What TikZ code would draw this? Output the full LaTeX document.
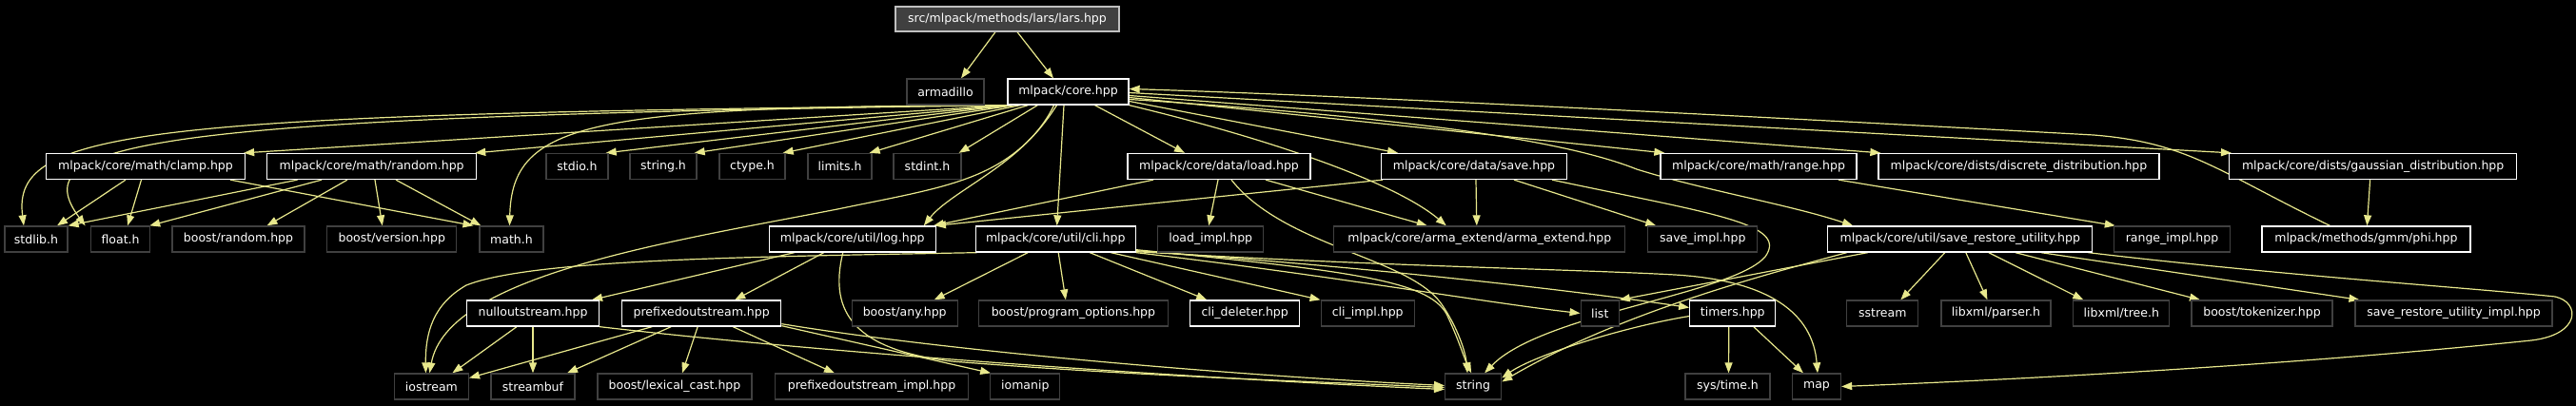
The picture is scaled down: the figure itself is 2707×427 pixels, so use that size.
\documentclass[tikz,border=0pt]{standalone}
\usepackage{fontspec}
\setmainfont{DejaVu Sans}
\usetikzlibrary{arrows.meta}
\definecolor{edgecol}{RGB}{232,232,140}
\definecolor{extborder}{RGB}{64,64,64}
\definecolor{topfill}{RGB}{64,64,64}
\definecolor{topborder}{RGB}{192,192,192}
\pgfdeclarelayer{bg}
\pgfdeclarelayer{edges}
\pgfsetlayers{bg,edges,main}
\tikzset{
  basebox/.style={rectangle, inner sep=0pt, minimum height=27pt, text=white,
    font=\fontsize{12.5}{14}\selectfont, line width=1.3pt},
  docbox/.style={basebox, draw=white, fill=black},
  extbox/.style={basebox, draw=extborder, fill=black},
  topbox/.style={basebox, draw=topborder, fill=topfill, minimum height=26pt},
  edge/.style={draw=edgecol, line width=1.2pt, -{Triangle[length=11pt,width=8pt]}}
}
\begin{document}
\begin{tikzpicture}[x=1pt,y=-1pt]
\begin{pgfonlayer}{bg}
\fill[black] (0,0) rectangle (2707,427);
\end{pgfonlayer}
\useasboundingbox (0,0) rectangle (2707,427);
% row 0
\node[topbox, minimum width=235pt] (lars) at (1058.5,20) {src/mlpack/methods/lars/lars.hpp};
% row 1
\node[extbox, minimum width=81pt] (armadillo) at (993.5,96.5) {armadillo};
\node[docbox, minimum width=127pt] (core) at (1122.5,96.5) {mlpack/core.hpp};
% row 2
\node[docbox, minimum width=209pt] (clamp) at (153,175) {mlpack/core/math/clamp.hpp};
\node[docbox, minimum width=220pt] (random) at (390.6,175) {mlpack/core/math/random.hpp};
\node[extbox, minimum width=65pt] (stdio) at (606.5,175) {stdio.h};
\node[extbox, minimum width=70pt] (stringh) at (697,175) {string.h};
\node[extbox, minimum width=69pt] (ctype) at (790.5,175) {ctype.h};
\node[extbox, minimum width=67pt] (limits) at (882.5,175) {limits.h};
\node[extbox, minimum width=71pt] (stdint) at (974.5,175) {stdint.h};
\node[docbox, minimum width=192pt] (load) at (1281,175) {mlpack/core/data/load.hpp};
\node[docbox, minimum width=195pt] (save) at (1549,175) {mlpack/core/data/save.hpp};
\node[docbox, minimum width=206pt] (range) at (1848,175) {mlpack/core/math/range.hpp};
\node[docbox, minimum width=295pt] (discrete) at (2121.5,175) {mlpack/core/dists/discrete\_distribution.hpp};
\node[docbox, minimum width=302pt] (gaussian) at (2493.6,175) {mlpack/core/dists/gaussian\_distribution.hpp};
% row 3
\node[extbox, minimum width=66pt] (stdlib) at (38,251.5) {stdlib.h};
\node[extbox, minimum width=62pt] (float) at (126.6,251.5) {float.h};
\node[extbox, minimum width=139pt] (brandom) at (250.5,251.5) {boost/random.hpp};
\node[extbox, minimum width=136pt] (bversion) at (411.8,251.5) {boost/version.hpp};
\node[extbox, minimum width=67pt] (math) at (537.5,251.5) {math.h};
\node[docbox, minimum width=175pt] (log) at (895.8,251.5) {mlpack/core/util/log.hpp};
\node[docbox, minimum width=168pt] (cli) at (1109.2,251.5) {mlpack/core/util/cli.hpp};
\node[extbox, minimum width=111pt] (loadimpl) at (1272.2,251.5) {load\_impl.hpp};
\node[extbox, minimum width=306pt] (arma) at (1554.8,251.5) {mlpack/core/arma\_extend/arma\_extend.hpp};
\node[extbox, minimum width=115pt] (saveimpl) at (1789.3,251.5) {save\_impl.hpp};
\node[docbox, minimum width=278pt] (sru) at (2059.8,251.5) {mlpack/core/util/save\_restore\_utility.hpp};
\node[extbox, minimum width=122pt] (rangeimpl) at (2282.5,251.5) {range\_impl.hpp};
\node[docbox, minimum width=219pt] (phi) at (2486.4,251.5) {mlpack/methods/gmm/phi.hpp};
% row 4
\node[docbox, minimum width=139pt] (null) at (560,329.5) {nulloutstream.hpp};
\node[docbox, minimum width=167pt] (prefixed) at (737.2,329.5) {prefixedoutstream.hpp};
\node[extbox, minimum width=111pt] (bany) at (950.7,329.5) {boost/any.hpp};
\node[extbox, minimum width=199pt] (bpo) at (1127.9,329.5) {boost/program\_options.hpp};
\node[docbox, minimum width=115pt] (clideleter) at (1308.2,329.5) {cli\_deleter.hpp};
\node[extbox, minimum width=98pt] (cliimpl) at (1437.2,329.5) {cli\_impl.hpp};
\node[extbox, minimum width=40pt] (list) at (1681.2,329.5) {list};
\node[docbox, minimum width=90pt] (timers) at (1820.8,329.5) {timers.hpp};
\node[extbox, minimum width=75pt] (sstream) at (1978.3,329.5) {sstream};
\node[extbox, minimum width=115pt] (lxparser) at (2097.4,329.5) {libxml/parser.h};
\node[extbox, minimum width=101pt] (lxtree) at (2229.3,329.5) {libxml/tree.h};
\node[extbox, minimum width=148pt] (btok) at (2377,329.5) {boost/tokenizer.hpp};
\node[extbox, minimum width=207pt] (sruimpl) at (2578.5,329.5) {save\_restore\_utility\_impl.hpp};
% row 5
\node[extbox, minimum width=78pt] (iostream) at (453.4,406.5) {iostream};
\node[extbox, minimum width=88pt] (streambuf) at (560,406.5) {streambuf};
\node[extbox, minimum width=162pt] (lexcast) at (709,406.5) {boost/lexical\_cast.hpp};
\node[extbox, minimum width=203pt] (pimpl) at (916,406.5) {prefixedoutstream\_impl.hpp};
\node[extbox, minimum width=73pt] (iomanip) at (1077.3,406.5) {iomanip};
\node[extbox, minimum width=59pt] (string) at (1548.1,406.5) {string};
\node[extbox, minimum width=89pt] (systime) at (1815.5,406.5) {sys/time.h};
\node[extbox, minimum width=51pt] (map) at (1909,406.5) {map};

\begin{pgfonlayer}{edges}
% lars
\draw[edge] ([xshift=-12.5pt]lars.south) -- ([xshift=16.5pt]armadillo.north);
\draw[edge] ([xshift=10.5pt]lars.south) -- ([xshift=-15.5pt]core.north);
% core -> left
\draw[edge] ([xshift=1pt]core.south west) -- ([xshift=-2pt]clamp.north east);
\draw[edge] ([xshift=2pt]core.south west) -- ([xshift=-2pt]random.north east);
\draw[edge] ([xshift=4pt]core.south west) -- ([xshift=-3pt]stdio.north east);
\draw[edge] ([xshift=8pt]core.south west) -- ([xshift=-3pt]stringh.north east);
\draw[edge] ([xshift=14pt]core.south west) -- ([xshift=-3pt]ctype.north east);
\draw[edge] ([xshift=22pt]core.south west) -- ([xshift=-3pt]limits.north east);
\draw[edge] ([xshift=32pt]core.south west) -- ([xshift=-3pt]stdint.north east);
\draw[edge] ([xshift=1pt]core.south west) .. controls (150,120) and (12,135) .. ([xshift=-13pt]stdlib.north);
\draw[edge] ([xshift=1pt]core.south west) .. controls (140,123) and (25,150) .. ([xshift=-37pt]float.north);
\draw[edge] ([xshift=3pt]core.south west) .. controls (620,112) and (538,128) .. ([xshift=-2pt]math.north);
\draw[edge] ([xshift=-15pt]core.south) .. controls (1080,170) and (1000,200) .. ([xshift=75pt]log.north);
\draw[edge] ([xshift=-12pt]core.south) .. controls (1060,190) and (1000,195) .. (880,220) .. controls (700,255) and (470,290) .. ([xshift=-2pt]iostream.north);
\draw[edge] ([xshift=-4.5pt]core.south) -- ([xshift=1.5pt]cli.north);
\draw[edge] ([xshift=28pt]core.south) -- ([xshift=-36pt]load.north);
\draw[edge] (core.south east) .. controls (1350,150) and (1470,195) .. ([xshift=-35pt]arma.north);
\draw[edge] ([yshift=-10pt]core.east) -- ([xshift=-80pt]save.north);
\draw[edge] ([yshift=-6pt]core.east) -- ([xshift=5pt]range.north west);
\draw[edge] ([yshift=-4pt]core.east) -- ([xshift=3pt]discrete.north west);
\draw[edge] ([yshift=-1pt]core.east) -- ([xshift=3pt]gaussian.north west);
\draw[edge] ([yshift=-8pt]core.east) .. controls (1500,125) and (1650,150) .. (1720,178) .. controls (1790,200) and (1880,215) .. ([xshift=27pt]sru.north west);
\draw[edge] ([xshift=-38pt]phi.north) .. controls (2330,180) and (2300,150) .. (2200,142) .. controls (1800,120) and (1400,100) .. ([yshift=3pt]core.east);
\draw[edge] ([xshift=-3pt]gaussian.south) -- ([xshift=1pt]phi.north);
\draw[edge] ([xshift=84pt]range.south) -- ([xshift=2pt]rangeimpl.north west);
% load / save
\draw[edge] ([xshift=-69pt]load.south) -- ([xshift=-3pt]log.north east);
\draw[edge] ([xshift=-96pt]save.south) -- ([xshift=-1pt]log.north east);
\draw[edge] ([xshift=-1pt]load.south) -- ([xshift=-2pt]loadimpl.north);
\draw[edge] ([xshift=49pt]load.south) -- ([xshift=-55pt]arma.north);
\draw[edge] ([xshift=13pt]load.south) .. controls (1350,260) and (1480,270) .. (1515,320) .. controls (1532,345) and (1540,370) .. ([xshift=-6pt]string.north);
\draw[edge] ([xshift=2pt]save.south) -- ([xshift=-3pt]arma.north);
\draw[edge] ([xshift=42pt]save.south) -- ([xshift=-49pt]saveimpl.north);
\draw[edge] ([xshift=82pt]save.south) .. controls (1800,225) and (1880,235) .. (1855,270) .. controls (1820,310) and (1620,330) .. ([xshift=12pt]string.north);
% clamp / random
\draw[edge] ([xshift=-21pt]clamp.south) -- ([xshift=22pt]stdlib.north);
\draw[edge] ([xshift=-4.5pt]clamp.south) -- ([xshift=7.5pt]float.north);
\draw[edge] ([xshift=89pt]clamp.south) -- ([xshift=-40pt]math.north);
\draw[edge] ([xshift=-78pt]random.south) -- (stdlib.north east);
\draw[edge] ([xshift=-52.6pt]random.south) -- ([xshift=-1pt]float.north east);
\draw[edge] ([xshift=-25.6pt]random.south) -- ([xshift=30pt]brandom.north);
\draw[edge] ([xshift=3.4pt]random.south) -- ([xshift=-10pt]bversion.north);
\draw[edge] ([xshift=25.4pt]random.south) -- ([xshift=2pt]math.north west);
% log
\draw[edge] ([xshift=-61pt]log.south) -- ([xshift=62pt]null.north);
\draw[edge] ([xshift=-30pt]log.south) -- ([xshift=35pt]prefixed.north);
\draw[edge] ([xshift=-10pt]log.south) .. controls (870,330) and (900,368) .. (1000,380) .. controls (1200,396) and (1400,402) .. ([yshift=-1pt]string.west);
% cli
\draw[edge] ([xshift=2pt]cli.south west) .. controls (800,270) and (560,272) .. (490,300) .. controls (455,320) and (447,350) .. ([xshift=-6pt]iostream.north);
\draw[edge] ([xshift=-29pt]cli.south) -- ([xshift=31pt]bany.north);
\draw[edge] ([xshift=3pt]cli.south) -- ([xshift=-8pt]bpo.north);
\draw[edge] ([xshift=36pt]cli.south) -- ([xshift=-40pt]clideleter.north);
\draw[edge] ([xshift=58pt]cli.south) -- (cliimpl.north west);
\draw[edge] (cli.south east) .. controls (1400,290) and (1560,318) .. (list.west);
\draw[edge] ([yshift=2pt]cli.south east) .. controls (1450,282) and (1650,305) .. ([yshift=6pt]timers.west);
\draw[edge] ([yshift=1pt]cli.south east) .. controls (1450,280) and (1650,283) .. (1760,289) .. controls (1860,295) and (1905,330) .. ([xshift=1pt]map.north);
\draw[edge] ([yshift=3pt]cli.south east) .. controls (1420,285) and (1500,295) .. (1520,330) .. controls (1532,355) and (1538,375) .. ([xshift=-2pt]string.north);
% timers
\draw[edge] ([xshift=-4pt]timers.south) -- ([xshift=1pt]systime.north);
\draw[edge] ([xshift=22pt]timers.south) -- ([xshift=-14pt]map.north);
\draw[edge] ([yshift=-3pt]timers.west) .. controls (1700,345) and (1610,375) .. ([yshift=9pt]string.east);
% save_restore_utility
\draw[edge] ([xshift=-97pt]sru.south) -- (list.north east);
\draw[edge] ([xshift=-119pt]sru.south) .. controls (1850,290) and (1700,330) .. ([yshift=5pt]string.east);
\draw[edge] ([xshift=-16pt]sru.south) -- ([xshift=19pt]sstream.north);
\draw[edge] ([xshift=6pt]sru.south) -- ([xshift=-9pt]lxparser.north);
\draw[edge] ([xshift=30pt]sru.south) -- ([xshift=-40pt]lxtree.north);
\draw[edge] ([xshift=58pt]sru.south) -- ([xshift=-65pt]btok.north);
\draw[edge] ([xshift=85pt]sru.south) -- ([xshift=-99pt]sruimpl.north);
\draw[edge] ([xshift=-5pt]sru.south east) .. controls (2400,290) and (2600,303) .. (2685,312) .. controls (2712,318) and (2712,352) .. (2660,358) .. controls (2400,385) and (2100,400) .. (map.east);
% nulloutstream
\draw[edge] ([xshift=-17pt]null.south) -- ([xshift=22pt]iostream.north);
\draw[edge] (null.south) -- (streambuf.north);
\draw[edge] (null.south east) .. controls (900,375) and (1300,400) .. ([yshift=-3pt]string.west);
% prefixedoutstream
\draw[edge] ([xshift=-52pt]prefixed.south) -- ([yshift=9pt]iostream.east);
\draw[edge] ([xshift=-32pt]prefixed.south) -- ([xshift=36pt]streambuf.north);
\draw[edge] ([xshift=-4pt]prefixed.south) -- ([xshift=8pt]lexcast.north);
\draw[edge] ([xshift=33pt]prefixed.south) -- ([xshift=-39pt]pimpl.north);
\draw[edge] ([yshift=1pt]prefixed.south east) -- ([xshift=1pt]iomanip.north west);
\draw[edge] ([yshift=3pt]prefixed.south east) .. controls (1000,370) and (1300,395) .. ([yshift=1pt]string.west);
\end{pgfonlayer}
\end{tikzpicture}
\end{document}
